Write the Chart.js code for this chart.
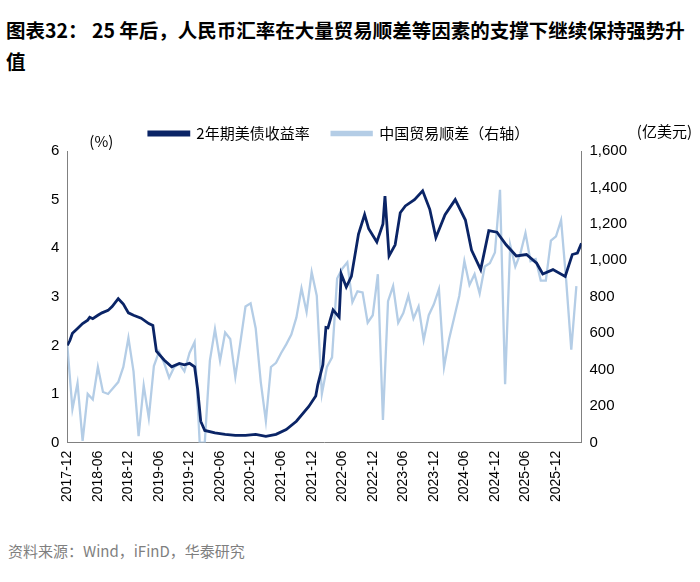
<!DOCTYPE html>
<html><head><meta charset="utf-8">
<script src="https://cdn.jsdelivr.net/npm/chart.js@4.4.0/dist/chart.umd.min.js"></script>
<style>
body{margin:0;background:#fff;font-family:"Noto Sans CJK SC","Noto Sans",sans-serif;}
#title{position:absolute;left:6px;top:14px;width:680px;font-size:19.5px;font-weight:bold;line-height:31px;color:#000;}
#wrap{position:absolute;left:0;top:100px;width:700px;height:405px;}
#src{position:absolute;left:8px;top:540px;font-size:15px;color:#7f7f7f;}
</style></head><body>
<div id="title">图表32： 25 年后，人民币汇率在大量贸易顺差等因素的支撑下继续保持强势升值</div>
<div id="wrap"><canvas id="c"></canvas></div>
<div id="src">资料来源：Wind，iFinD，华泰研究</div>
<script>
// month index 0 = 2017-12
const tickLabels = ["2017-12","2018-06","2018-12","2019-06","2019-12","2020-06","2020-12","2021-06","2021-12","2022-06","2022-12","2023-06","2023-12","2024-06","2024-12","2025-06","2025-12"];
const tradeBal = [533,184,326,10,267,237,415,278,267,300,332,415,575,391,36,314,136,420,498,438,
  356,415,433,391,492,551,0,0,450,622,450,604,569,361,551,747,764,628,332,119,
  415,438,492,539,593,687,847,717,936,806,267,415,468,900,954,989,770,830,824,658,
  699,924,124,776,859,658,711,806,681,747,563,699,759,842,415,569,687,806,996,865,
  924,818,966,984,1043,1387,320,1084,966,1037,1150,996,1007,889,889,1108,1132,1221,889,510,859];
const yieldX = [0,0.5,1,2,3,4,4.4,5,6,6.8,8,8.8,10,11,12,13,14.5,16,16.8,17.5,19,20.5,22,23,24,25,25.6,26.2,27,29,31,33,35,37,39,41,43,45,47.4,48.8,49.2,50.2,50.8,51.2,52.2,53.4,53.8,54.8,55.8,57.2,58.4,59.2,60.8,62,62.4,63.2,64.4,65.4,66.4,68.2,69.8,71.2,72.4,74.2,76.2,78.2,79.4,81.2,82.8,84.4,86.2,88.2,90.2,92.2,93.4,95.4,97.8,99.2,100.2,101];
const yieldY = [2.0,2.1,2.25,2.35,2.45,2.52,2.58,2.55,2.62,2.67,2.72,2.8,2.96,2.85,2.67,2.62,2.56,2.45,2.41,1.88,1.7,1.56,1.63,1.6,1.63,1.56,1.1,0.44,0.25,0.2,0.17,0.15,0.15,0.17,0.13,0.17,0.27,0.44,0.74,0.96,1.19,1.6,2.37,2.36,2.73,2.58,3.47,3.2,3.42,4.29,4.69,4.4,4.13,4.5,5.07,3.84,4.07,4.73,4.87,5.0,5.18,4.8,4.22,4.69,5.0,4.58,3.96,3.56,4.36,4.33,4.07,3.84,3.87,3.69,3.47,3.56,3.42,3.87,3.9,4.1];

const yieldPts = yieldX.map((x, i) => ({ x, y: yieldY[i] }));
const tradePts = tradeBal.map((y, i) => ({ x: i, y }));

const axisTitles = {
  id: "axisTitles",
  afterDraw(chart) {
    const g = chart.ctx, a = chart.chartArea;
    g.save();
    g.fillStyle = "#000";
    g.font = "15px 'Noto Sans CJK SC'";
    g.textAlign = "left";
    g.fillText("(%)", a.left + 22, a.top - 10);
    g.textAlign = "right";
    g.fillText("(亿美元)", 692, a.top - 20);
    g.restore();
  },
};

new Chart(document.getElementById("c"), {
  type: "line",
  data: {
    datasets: [
      { label: "2年期美债收益率", data: yieldPts, yAxisID: "y", borderColor: "#0a2466", backgroundColor: "#0a2466", borderWidth: 2.8, pointRadius: 0, tension: 0, order: 1 },
      { label: "中国贸易顺差（右轴）", data: tradePts, yAxisID: "y1", borderColor: "#b4cde6", backgroundColor: "#b4cde6", borderWidth: 2.3, pointRadius: 0, tension: 0, order: 2 },
    ],
  },
  options: {
    responsive: true,
    maintainAspectRatio: false,
    animation: false,
    layout: { padding: { top: 4, left: 48, right: 70, bottom: 0 } },
    plugins: {
      legend: {
        position: "top",
        labels: { boxWidth: 40, boxHeight: 3, font: { size: 15, family: "Noto Sans CJK SC" }, color: "#000", padding: 22 },
      },
      tooltip: { enabled: false },
    },
    scales: {
      x: {
        type: "linear", min: 0, max: 101,
        afterBuildTicks(s) { s.ticks = tickLabels.map((_, i) => ({ value: i * 6 })); },
        ticks: { callback: (v) => tickLabels[v / 6], maxRotation: 90, minRotation: 90, color: "#000", font: { size: 14 } },
        grid: { display: false, drawTicks: true, tickLength: 5, color: "#808080" },
        border: { color: "#808080" },
      },
      y: {
        position: "left", min: 0, max: 6,
        ticks: { stepSize: 1, color: "#000", font: { size: 15 } },
        grid: { display: false, tickLength: 5 },
        border: { color: "#808080" },
      },
      y1: {
        position: "right", min: 0, max: 1600,
        ticks: { stepSize: 200, color: "#000", font: { size: 15 }, callback: (v) => v.toLocaleString("en-US") },
        grid: { display: false, tickLength: 5 },
        border: { color: "#808080" },
      },
    },
  },
  plugins: [axisTitles],
});
</script>
</body></html>
